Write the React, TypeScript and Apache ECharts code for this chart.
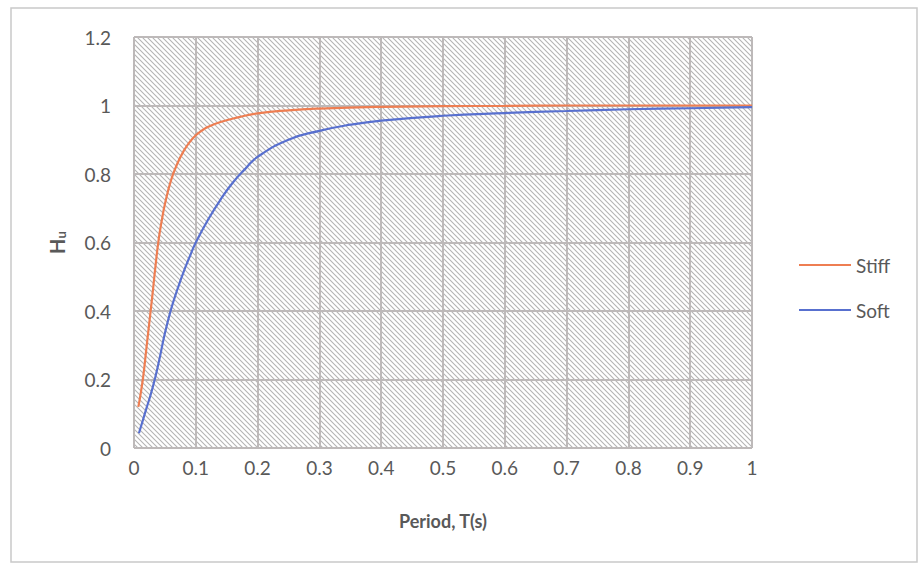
import React, { useEffect, useRef } from "react";
import * as echarts from "echarts";

const stiffT = [0.007, 0.01, 0.015, 0.02, 0.025, 0.03, 0.035, 0.04, 0.045, 0.05, 0.06, 0.07, 0.08, 0.09, 0.1, 0.11, 0.12, 0.14, 0.17, 0.2, 0.25, 0.3, 0.4, 0.5, 0.6, 0.7, 0.8, 0.9, 1.0];
const stiffH = [0.12, 0.15, 0.21, 0.29, 0.37, 0.45, 0.535, 0.61, 0.665, 0.712, 0.782, 0.83, 0.866, 0.893, 0.913, 0.927, 0.938, 0.952, 0.966, 0.977, 0.986, 0.991, 0.996, 0.998, 0.999, 1.0, 1.0, 1.0, 1.0];

const softT = [0.008, 0.02, 0.03, 0.04, 0.05, 0.06, 0.07, 0.08, 0.09, 0.1, 0.12, 0.14, 0.16, 0.18, 0.2, 0.25, 0.3, 0.35, 0.4, 0.5, 0.6, 0.7, 0.8, 0.9, 1.0];
const softH = [0.043, 0.115, 0.175, 0.25, 0.335, 0.405, 0.462, 0.513, 0.558, 0.6, 0.667, 0.725, 0.775, 0.815, 0.85, 0.9, 0.926, 0.944, 0.956, 0.97, 0.978, 0.984, 0.989, 0.992, 0.995];

const seriesNames = ["Stiff", "Soft"];
const xTitle = "Period, T(s)";

const FONT = "Lato, 'Noto Sans', sans-serif";
const TXT = "#595959";

function makeHatch(): HTMLCanvasElement {
  const s = 5;
  const c = document.createElement("canvas");
  c.width = s;
  c.height = s;
  const ctx = c.getContext("2d")!;
  ctx.fillStyle = "#ffffff";
  ctx.fillRect(0, 0, s, s);
  ctx.strokeStyle = "#b4b4b4";
  ctx.lineWidth = 1.1;
  ctx.beginPath();
  ctx.moveTo(-1, -1);
  ctx.lineTo(s + 1, s + 1);
  ctx.moveTo(-1 - s, -1);
  ctx.lineTo(1, s + 1);
  ctx.moveTo(s - 1, -1);
  ctx.lineTo(2 * s + 1, s + 1);
  ctx.stroke();
  return c;
}

export default function App() {
  const ref = useRef<HTMLDivElement>(null);
  useEffect(() => {
    if (!ref.current) return;
    const chart = echarts.init(ref.current, null, { renderer: "svg" });
    const hatch = makeHatch();
    const fmt = (v: number) => String(Number(v.toFixed(1)));
    chart.setOption({
      animation: false,
      backgroundColor: "#ffffff",
      graphic: [
        {
          type: "rect",
          shape: { x: 11, y: 8, width: 906, height: 554 },
          style: { fill: "none", stroke: "#c9c9c9", lineWidth: 1.5 },
          z: -1,
        },
      ],
      grid: {
        left: 134,
        right: 168,
        top: 37,
        bottom: 117,
        show: true,
        backgroundColor: { image: hatch, repeat: "repeat" },
        borderWidth: 0,
      },
      legend: {
        orient: "vertical",
        left: 799,
        top: 254,
        padding: 0,
        icon: "rect",
        itemWidth: 52,
        itemHeight: 2,
        itemGap: 23,
        textStyle: { fontFamily: FONT, fontSize: 19, color: TXT, lineHeight: 22 },
        data: seriesNames,
      },
      xAxis: {
        type: "value",
        min: 0,
        max: 1,
        interval: 0.1,
        name: xTitle,
        nameLocation: "middle",
        nameGap: 64,
        nameTextStyle: { fontFamily: FONT, fontSize: 18, fontWeight: "bold", color: TXT },
        axisLine: { show: false },
        axisTick: { show: false },
        axisLabel: { formatter: fmt, fontFamily: FONT, fontSize: 19, color: TXT, margin: 10 },
        splitLine: { show: true, lineStyle: { color: "#bdb9b9", width: 2 } },
      },
      yAxis: {
        type: "value",
        min: 0,
        max: 1.2,
        interval: 0.2,
        name: "{h|H}{u|u}",
        nameLocation: "middle",
        nameRotate: 90,
        nameGap: 67,
        nameTextStyle: {
          rich: {
            h: { fontFamily: FONT, fontSize: 20, fontWeight: "bold", color: TXT },
            u: { fontFamily: FONT, fontSize: 13, fontWeight: "bold", color: TXT, verticalAlign: "bottom", padding: [7, 0, 0, 0] },
          },
        },
        axisLine: { show: false },
        axisTick: { show: false },
        axisLabel: { formatter: fmt, fontFamily: FONT, fontSize: 19, color: TXT, margin: 23 },
        splitLine: { show: true, lineStyle: { color: "#bdb9b9", width: 2 } },
      },
      series: [
        {
          name: seriesNames[0],
          type: "line",
          data: stiffT.map((t, i) => [t, stiffH[i]]),
          showSymbol: false,
          smooth: 0.5,
          lineStyle: { color: "#EE7E52", width: 2.2 },
          itemStyle: { color: "#EE7E52" },
        },
        {
          name: seriesNames[1],
          type: "line",
          data: softT.map((t, i) => [t, softH[i]]),
          showSymbol: false,
          smooth: 0.5,
          lineStyle: { color: "#5870CF", width: 2.2 },
          itemStyle: { color: "#5870CF" },
        },
      ],
    });
    return () => chart.dispose();
  }, []);
  return (
    <div
      ref={ref}
      style={{ position: "fixed", left: 0, top: 0, width: 920, height: 565 }}
    />
  );
}
